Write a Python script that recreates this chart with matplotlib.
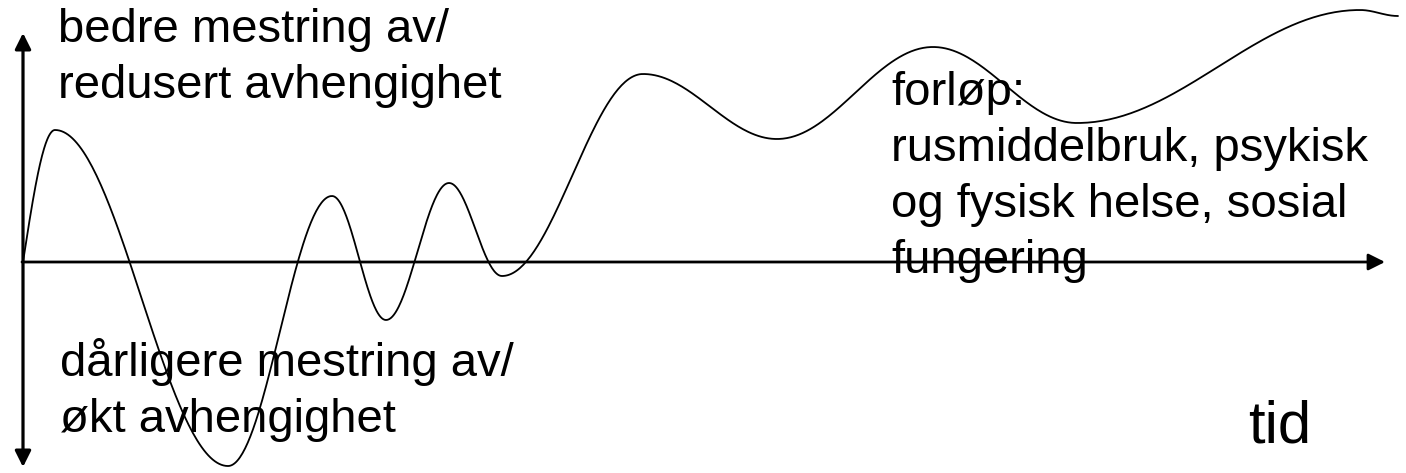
import numpy as np
import matplotlib
matplotlib.use("Agg")
import matplotlib.pyplot as plt

# Key points of the course curve (time, level above the time axis)
key_time = [23, 55, 228, 332, 386, 449, 502, 643, 777, 933, 1077, 1360, 1398]
key_level = [0, 132, -204, 66, -58, 79, -14, 188, 123, 215, 139, 252, 246]

label_top = ["bedre mestring av/", "redusert avhengighet"]
label_bottom = ["dårligere mestring av/", "økt avhengighet"]
label_course = ["forløp:", "rusmiddelbruk, psykisk", "og fysisk helse, sosial", "fungering"]
label_time = "tid"

plt.rcParams['font.family'] = ['Liberation Sans', 'DejaVu Sans']

fig = plt.figure(figsize=(14.06, 4.73), dpi=100)
ax = fig.add_axes([0, 0, 1, 1])
ax.set_xlim(0, 1406)
ax.set_ylim(262 - 473, 262)
ax.axis('off')

# smooth curve: sinusoidal easing between successive extrema
xs, ys = [], []
for i in range(len(key_time) - 1):
    x0, x1 = key_time[i], key_time[i + 1]
    y0, y1 = key_level[i], key_level[i + 1]
    t = np.linspace(0, 1, 80)
    if i == 0:
        f = np.sin(np.pi / 2 * t)
    else:
        f = (1 - np.cos(np.pi * t)) / 2
    xs.append(x0 + (x1 - x0) * t)
    ys.append(y0 + (y1 - y0) * f)
xs = np.concatenate(xs)
ys = np.concatenate(ys)
ax.plot(xs, ys, color='black', lw=1.3, solid_capstyle='round')

# axes arrows
ax.annotate('', xy=(23, 262 - 33), xytext=(23, 262 - 467),
            arrowprops=dict(arrowstyle='<|-|>', color='black', lw=2.3,
                            mutation_scale=24, shrinkA=0, shrinkB=0))
ax.annotate('', xy=(1385, 0), xytext=(22, 0),
            arrowprops=dict(arrowstyle='-|>', color='black', lw=2.0,
                            mutation_scale=25, shrinkA=0, shrinkB=0))

fs = 34
step = 56


def block(x, first_baseline_px, lines):
    for k, line in enumerate(lines):
        ax.text(x, 262 - (first_baseline_px + k * step), line, fontsize=fs,
                ha='left', va='baseline')


block(58, 42, label_top)
block(891, 105, label_course)
block(60, 376, label_bottom)
ax.text(1248, 262 - 442, label_time, fontsize=43, ha='left', va='baseline')

fig.savefig('out.png', dpi=100)
